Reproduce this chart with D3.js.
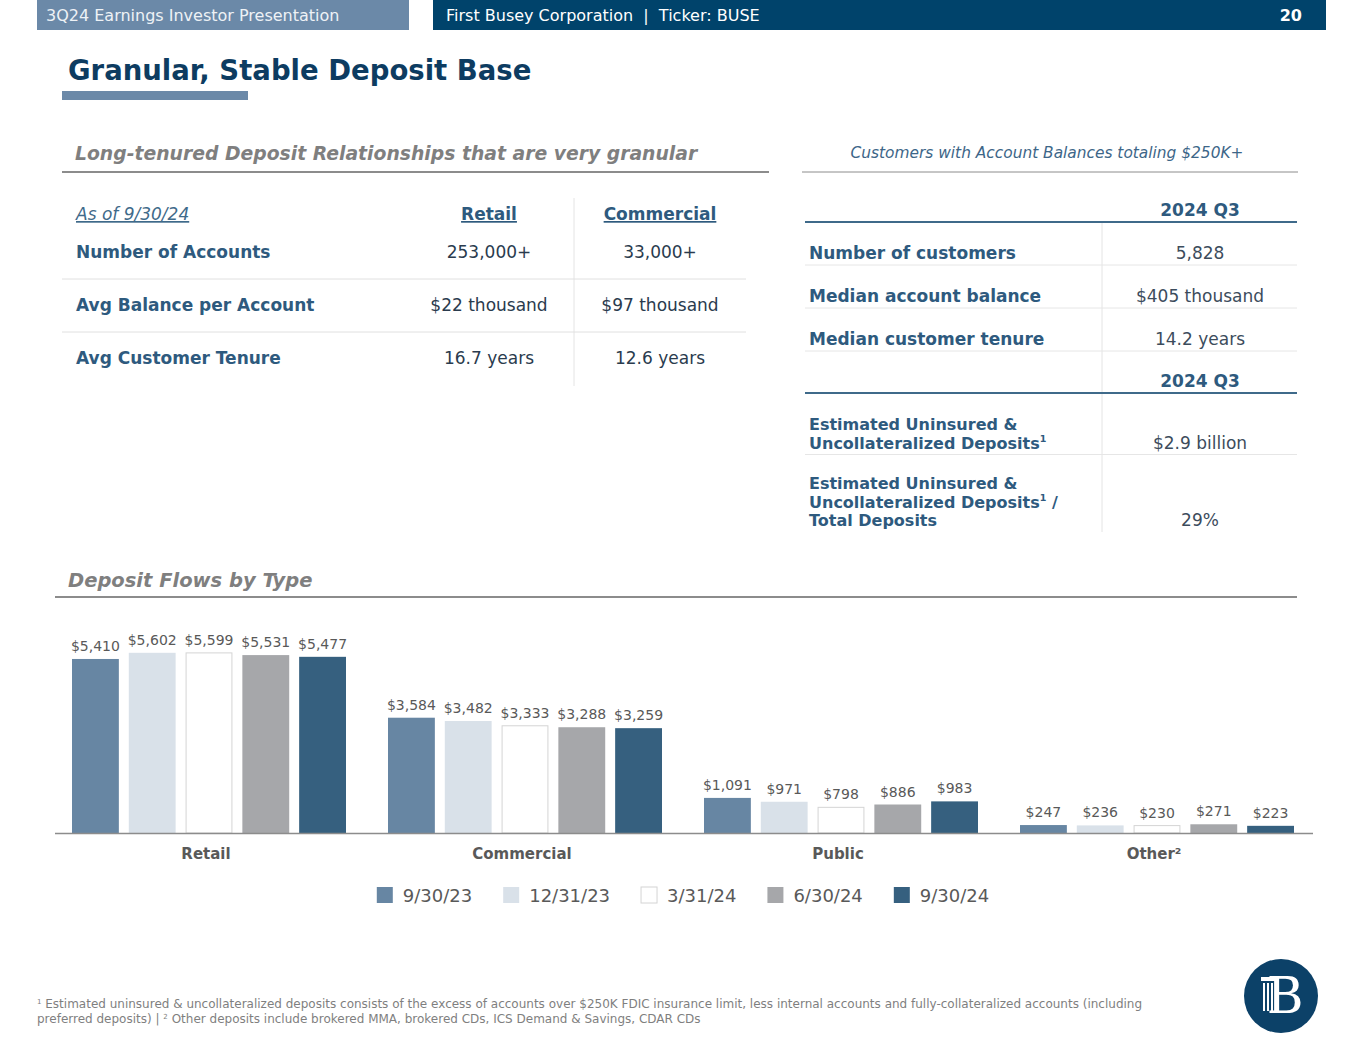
<!DOCTYPE html>
<html>
<head>
<meta charset="utf-8">
<script src="https://cdn.jsdelivr.net/npm/d3@7"></script>
<style>
  body { margin: 0; background: #fff; }
  svg { display: block; font-family: "DejaVu Sans", Verdana, sans-serif; }
</style>
</head>
<body>
<div id="slide"></div>
<script>
// ---- data ----
const categories = ["Retail", "Commercial", "Public", "Other"];
const periods = ["9/30/23", "12/31/23", "3/31/24", "6/30/24", "9/30/24"];
const sep2023 = [5410, 3584, 1091, 247];
const dec2023 = [5602, 3482, 971, 236];
const mar2024 = [5599, 3333, 798, 230];
const jun2024 = [5531, 3288, 886, 271];
const sep2024 = [5477, 3259, 983, 223];

const leftCols = ["Retail", "Commercial"];
const leftRows = ["Number of Accounts", "Avg Balance per Account", "Avg Customer Tenure"];
const leftRetail = ["253,000+", "$22 thousand", "16.7 years"];
const leftCommercial = ["33,000+", "$97 thousand", "12.6 years"];

const rightRows = ["Number of customers", "Median account balance", "Median customer tenure"];
const rightValues = ["5,828", "$405 thousand", "14.2 years"];
const rightRows2 = [["Estimated Uninsured &", "Uncollateralized Deposits|1"],
                    ["Estimated Uninsured &", "Uncollateralized Deposits|1| /", "Total Deposits"]];
const rightValues2 = ["$2.9 billion", "29%"];

const width = 1365;
const height = 1055;

const navy = "#00436b";
const steel = "#6b89a8";
const labelBlue = "#2e5a7e";
const valueInk = "#2a3b4e";
const grey = "#595959";

const svg = d3.select("#slide").append("svg")
    .attr("width", width)
    .attr("height", height);

svg.append("rect").attr("width", width).attr("height", height).attr("fill", "#fff");

// ---- header ----
svg.append("rect").attr("x", 37).attr("y", 0).attr("width", 372).attr("height", 30).attr("fill", steel);
svg.append("rect").attr("x", 433).attr("y", 0).attr("width", 893).attr("height", 30).attr("fill", navy);
svg.append("text").attr("x", 46).attr("y", 21).attr("fill", "#eef2f6").attr("font-size", 16)
    .text("3Q24 Earnings Investor Presentation");
svg.append("text").attr("x", 446).attr("y", 21).attr("fill", "#fff").attr("font-size", 16)
    .attr("xml:space", "preserve")
    .text("First Busey Corporation  |  Ticker: BUSE");
svg.append("text").attr("x", 1302).attr("y", 21).attr("fill", "#fff").attr("font-size", 16)
    .attr("font-weight", "bold").attr("text-anchor", "end").text("20");

// ---- title ----
svg.append("text").attr("x", 68).attr("y", 80).attr("fill", "#0d3c61").attr("font-size", 27.5)
    .attr("font-weight", "bold").text("Granular, Stable Deposit Base");
svg.append("rect").attr("x", 62).attr("y", 91).attr("width", 186).attr("height", 9).attr("fill", steel);

// ---- left panel ----
svg.append("text").attr("x", 75).attr("y", 160).attr("fill", "#7f7f7f").attr("font-size", 18.8)
    .attr("font-weight", "bold").attr("font-style", "italic")
    .text("Long-tenured Deposit Relationships that are very granular");
svg.append("line").attr("x1", 62).attr("x2", 769).attr("y1", 172).attr("y2", 172)
    .attr("stroke", "#8c8c8c").attr("stroke-width", 2);

const lt = svg.append("g");
const colX = [489, 660];
const rowY = d3.scalePoint().domain(leftRows).range([258, 364]);

lt.append("line").attr("x1", 574).attr("x2", 574).attr("y1", 198).attr("y2", 386)
    .attr("stroke", "#e4e4e4");
leftRows.slice(1).forEach(r => {
  lt.append("line").attr("x1", 62).attr("x2", 746)
      .attr("y1", rowY(r) - 32).attr("y2", rowY(r) - 32)
      .attr("stroke", "#e0e0e0");
});

lt.append("text").attr("x", 76).attr("y", 220).attr("fill", "#3f6a8a").attr("font-size", 17)
    .attr("font-style", "italic").attr("text-decoration", "underline").text("As of 9/30/24");
lt.selectAll("text.colhead").data(leftCols).join("text")
    .attr("class", "colhead")
    .attr("x", (d, i) => colX[i]).attr("y", 220)
    .attr("text-anchor", "middle").attr("fill", labelBlue).attr("font-size", 17)
    .attr("font-weight", "bold").attr("text-decoration", "underline").text(d => d);

lt.selectAll("text.rowlab").data(leftRows).join("text")
    .attr("class", "rowlab")
    .attr("x", 76).attr("y", d => rowY(d))
    .attr("fill", labelBlue).attr("font-size", 17).attr("font-weight", "bold").text(d => d);

[leftRetail, leftCommercial].forEach((vals, ci) => {
  lt.selectAll(null).data(vals).join("text")
      .attr("x", colX[ci]).attr("y", (d, i) => rowY(leftRows[i]))
      .attr("text-anchor", "middle").attr("fill", valueInk).attr("font-size", 17).text(d => d);
});

// ---- right panel ----
svg.append("text").attr("x", 1047).attr("y", 158).attr("text-anchor", "middle")
    .attr("fill", "#3d6688").attr("font-size", 15.4).attr("font-style", "italic")
    .text("Customers with Account Balances totaling $250K+");
svg.append("line").attr("x1", 802).attr("x2", 1298).attr("y1", 172).attr("y2", 172)
    .attr("stroke", "#8c8c8c");

const rt = svg.append("g");
const rx0 = 805, rx1 = 1297, rLab = 809, rVal = 1200;

rt.append("line").attr("x1", 1102).attr("x2", 1102).attr("y1", 222).attr("y2", 532).attr("stroke", "#e4e4e4");

function q3Header(y) {
  rt.append("text").attr("x", rVal).attr("y", y).attr("text-anchor", "middle")
      .attr("fill", labelBlue).attr("font-size", 17).attr("font-weight", "bold").text("2024 Q3");
  rt.append("line").attr("x1", rx0).attr("x2", rx1).attr("y1", y + 6).attr("y2", y + 6)
      .attr("stroke", "#3f6a8a").attr("stroke-width", 2);
}
q3Header(216);
q3Header(387);

const rRowY = d3.scalePoint().domain(rightRows).range([259, 345]);
rightRows.forEach((r, i) => {
  rt.append("text").attr("x", rLab).attr("y", rRowY(r)).attr("fill", labelBlue)
      .attr("font-size", 17).attr("font-weight", "bold").text(r);
  rt.append("text").attr("x", rVal).attr("y", rRowY(r)).attr("text-anchor", "middle")
      .attr("fill", "#3c4c5c").attr("font-size", 17).text(rightValues[i]);
  rt.append("line").attr("x1", rx0).attr("x2", rx1).attr("y1", rRowY(r) + 6).attr("y2", rRowY(r) + 6)
      .attr("stroke", "#e6e6e6");
});

// multi-line labels: one text element per line so lines don't overlap
const lineGap = 18.5;
const r2Top = [430, 489];
rightRows2.forEach((lines, i) => {
  lines.forEach((ln, j) => {
    const parts = ln.split("|");
    const t = rt.append("text").attr("x", rLab).attr("y", r2Top[i] + j * lineGap)
        .attr("fill", labelBlue).attr("font-size", 16).attr("font-weight", "bold");
    t.append("tspan").text(parts[0]);
    if (parts.length > 1) {
      t.append("tspan").attr("dy", -7).attr("font-size", 9.5).text(parts[1]);
      if (parts[2]) t.append("tspan").attr("dy", 7).text(parts[2]);
    }
  });
  const lastY = r2Top[i] + (lines.length - 1) * lineGap;
  rt.append("text").attr("x", rVal).attr("y", lastY).attr("text-anchor", "middle")
      .attr("fill", "#3c4c5c").attr("font-size", 17).text(rightValues2[i]);
  if (i === 0) {
    rt.append("line").attr("x1", rx0).attr("x2", rx1).attr("y1", lastY + 6).attr("y2", lastY + 6)
        .attr("stroke", "#e6e6e6");
  }
});

// ---- chart ----
svg.append("text").attr("x", 68).attr("y", 587).attr("fill", "#7f7f7f").attr("font-size", 19.5)
    .attr("font-weight", "bold").attr("font-style", "italic").text("Deposit Flows by Type");
svg.append("line").attr("x1", 55).attr("x2", 1297).attr("y1", 597).attr("y2", 597)
    .attr("stroke", "#8c8c8c").attr("stroke-width", 2);

const series = [sep2023, dec2023, mar2024, jun2024, sep2024];
const fills = ["#6786a3", "#d9e1e9", "#ffffff", "#a6a7aa", "#36607f"];
const strokes = ["none", "none", "#d4d4d4", "none", "none"];

const baseY = 833;
const x0 = d3.scaleBand().domain(categories).range([48, 1312]);
const x1 = d3.scaleBand().domain(periods).range([24, 298]).paddingInner(0.175);
const y = d3.scaleLinear().domain([0, 6000]).range([baseY, baseY - 193]);

const chart = svg.append("g");
const groups = chart.selectAll("g.grp").data(categories).join("g")
    .attr("class", "grp")
    .attr("transform", d => `translate(${x0(d)},0)`);

groups.each(function(cat, ci) {
  const g = d3.select(this);
  const rows = periods.map((p, si) => ({ p, si, v: series[si][ci] }));
  g.selectAll("rect").data(rows).join("rect")
      .attr("x", d => x1(d.p) + (strokes[d.si] === "none" ? 0 : 0.5))
      .attr("y", d => y(d.v))
      .attr("width", d => x1.bandwidth() - (strokes[d.si] === "none" ? 0 : 1))
      .attr("height", d => baseY - y(d.v))
      .attr("fill", d => fills[d.si])
      .attr("stroke", d => strokes[d.si]);
  g.selectAll("text").data(rows).join("text")
      .attr("x", d => x1(d.p) + x1.bandwidth() / 2)
      .attr("y", d => y(d.v) - 8)
      .attr("text-anchor", "middle").attr("fill", grey).attr("font-size", 14)
      .text(d => "$" + d3.format(",")(d.v));
});

const xAxis = d3.axisBottom(x0).tickSize(0).tickPadding(15).tickFormat(d => d === "Other" ? "Other\u00b2" : d);
const ax = chart.append("g").attr("transform", `translate(0,${baseY})`).call(xAxis);
ax.select(".domain").attr("d", "M55,0.5H1313").attr("stroke", "#8c8c8c").attr("stroke-width", 1.5);
ax.selectAll(".tick text").attr("fill", grey).attr("font-size", 15).attr("font-weight", "bold")
    .attr("font-family", "DejaVu Sans, sans-serif");

// legend
const legend = svg.append("g");
const items = legend.selectAll("g").data(periods).join("g");
items.append("rect").attr("width", 16).attr("height", 16).attr("y", -15)
    .attr("fill", (d, i) => fills[i]).attr("stroke", (d, i) => strokes[i]);
items.append("text").attr("x", 26).attr("fill", grey).attr("font-size", 18).text(d => d);
let cx = 0;
const offsets = [];
items.each(function() {
  offsets.push(cx);
  cx += 26 + d3.select(this).select("text").node().getComputedTextLength() + 31;
});
const total = cx - 31;
const lx = 683 - total / 2;
items.attr("transform", (d, i) => `translate(${lx + offsets[i]},902)`);

// ---- footnote ----
const fn = svg.append("text").attr("fill", "#7f7f7f").attr("font-size", 12);
fn.append("tspan").attr("x", 37).attr("y", 1008).attr("font-size", 7).attr("dy", -4).text("1");
fn.append("tspan").attr("dy", 4).text(" Estimated uninsured & uncollateralized deposits consists of the excess of accounts over $250K FDIC insurance limit, less internal accounts and fully-collateralized accounts (including");
fn.append("tspan").attr("x", 37).attr("y", 1023).text("preferred deposits) | ");
fn.append("tspan").attr("font-size", 7).attr("dy", -4).text("2");
fn.append("tspan").attr("dy", 4).text(" Other deposits include brokered MMA, brokered CDs, ICS Demand & Savings, CDAR CDs");

// ---- logo ----
const logo = svg.append("g").attr("transform", "translate(1281,996)");
logo.append("circle").attr("r", 37).attr("fill", "#0c4168");
logo.append("text").attr("x", 4).attr("y", 17).attr("text-anchor", "middle").attr("fill", "#fff")
    .attr("font-family", "DejaVu Serif, serif").attr("font-size", 50).text("B");
logo.append("rect").attr("x", -20).attr("y", -19).attr("width", 14).attr("height", 4).attr("fill", "#fff");
[-18, -14, -10].forEach(px => {
  logo.append("rect").attr("x", px).attr("y", -13).attr("width", 2).attr("height", 28).attr("fill", "#fff");
});
</script>
</body>
</html>
